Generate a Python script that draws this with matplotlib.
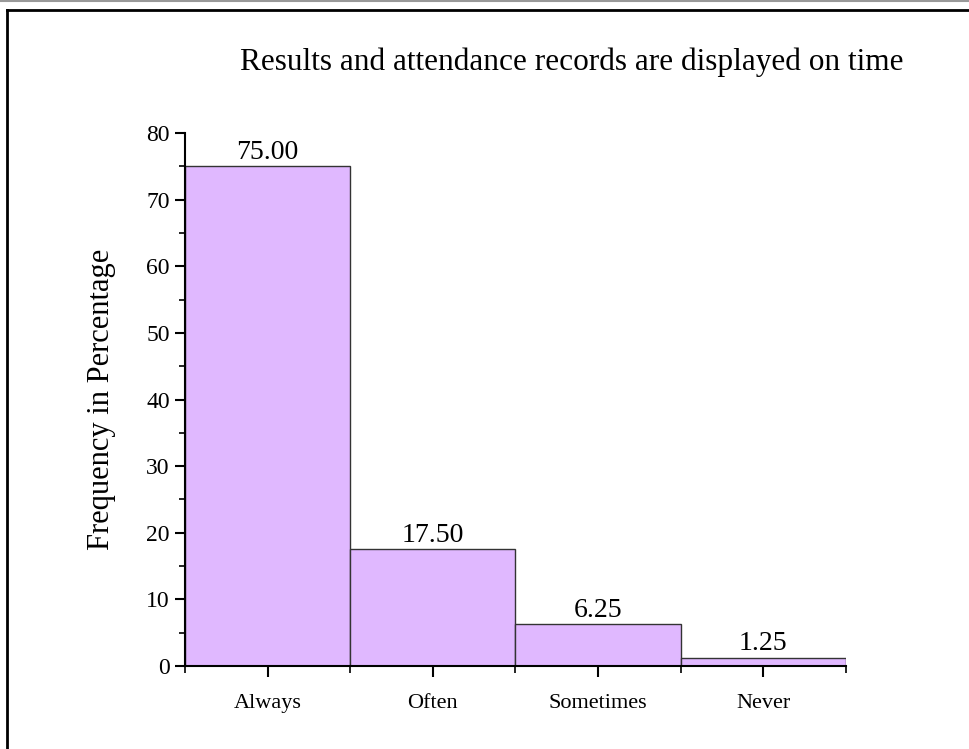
import matplotlib
matplotlib.use("Agg")
import matplotlib.pyplot as plt
from matplotlib.lines import Line2D
from matplotlib.ticker import MultipleLocator, FixedLocator

categories = ["Always", "Often", "Sometimes", "Never"]
values = [75.00, 17.50, 6.25, 1.25]
value_labels = ["75.00", "17.50", "6.25", "1.25"]

plt.rcParams['font.family'] = ['Liberation Serif', 'DejaVu Serif']

fig = plt.figure(figsize=(9.70, 7.49), dpi=100)
ax = fig.add_axes([185/970, 1-666/749, 661/970, 533/749])

x = list(range(len(categories)))
ax.bar(x, values, width=1.0, align='edge', color='#E0B8FF', edgecolor='#333333', linewidth=1.0)

for xi, v, lab in zip(x, values, value_labels):
    ax.text(xi + 0.5, v + 0.2, lab, ha='center', va='bottom', fontsize=20)

ax.set_xlim(0, 4)
ax.set_ylim(0, 80)
ax.yaxis.set_major_locator(MultipleLocator(10))
ax.yaxis.set_minor_locator(MultipleLocator(5))
ax.xaxis.set_major_locator(FixedLocator([i + 0.5 for i in x]))
ax.xaxis.set_minor_locator(FixedLocator([0, 1, 2, 3, 4]))
ax.set_xticklabels(categories)

for s in ['top', 'right']:
    ax.spines[s].set_visible(False)
for s in ['left', 'bottom']:
    ax.spines[s].set_linewidth(1.5)

ax.tick_params(axis='y', which='major', direction='out', length=7, width=1.5, labelsize=17, pad=4)
ax.tick_params(axis='y', which='minor', direction='out', length=4, width=1.2)
ax.tick_params(axis='x', which='major', direction='out', length=8, width=1.5, labelsize=16, pad=12)
ax.tick_params(axis='x', which='minor', direction='out', length=5, width=1.2)

ax.set_ylabel("Frequency in Percentage", fontsize=22, labelpad=22)

fig.text(572/970, 1-62/749, "Results and attendance records are displayed on time",
         ha='center', va='center', fontsize=22.5)

# frame lines
fig.add_artist(Line2D([0, 1], [1-1/749, 1-1/749], color='#999999', linewidth=1.5, transform=fig.transFigure))
fig.add_artist(Line2D([7/970, 1], [1-10/749, 1-10/749], color='black', linewidth=2.0, transform=fig.transFigure))
fig.add_artist(Line2D([7/970, 7/970], [0, 1-10/749], color='black', linewidth=2.0, transform=fig.transFigure))

fig.savefig("out.png", dpi=100)
